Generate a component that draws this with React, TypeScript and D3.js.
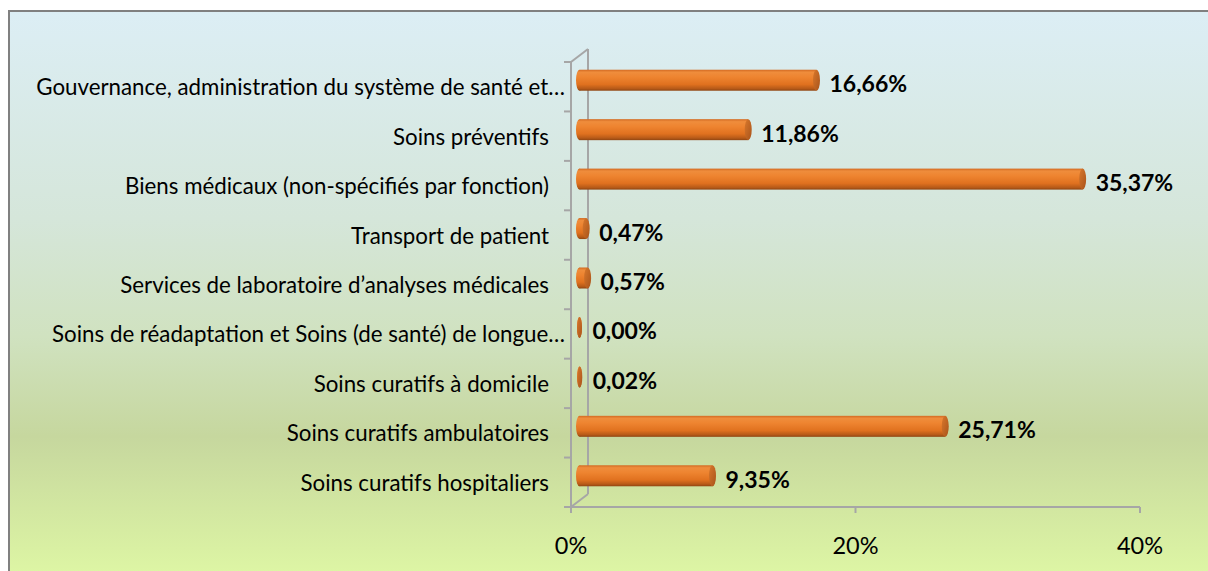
import React from "react";
import * as d3 from "d3";

const categories = [
  "Gouvernance, administration du système de santé et…",
  "Soins préventifs",
  "Biens médicaux (non-spécifiés par fonction)",
  "Transport de patient",
  "Services de laboratoire d’analyses médicales",
  "Soins de réadaptation et Soins (de santé) de longue…",
  "Soins curatifs à domicile",
  "Soins curatifs ambulatoires",
  "Soins curatifs hospitaliers",
];
const values = [16.66, 11.86, 35.37, 0.47, 0.57, 0.0, 0.02, 25.71, 9.35];
const valueLabels = ["16,66%", "11,86%", "35,37%", "0,47%", "0,57%", "0,00%", "0,02%", "25,71%", "9,35%"];
const xTicks = [0, 20, 40];
const xTickLabels = ["0%", "20%", "40%"];

const W = 1208;
const H = 571;
const front = { left: 571, right: 1140, top: 62, bottom: 507 };
const depth = { dx: 17, dy: -13 };

export default function App() {
  const x = d3.scaleLinear().domain([0, 40]).range([front.left, front.right]);
  const y = d3.scaleBand<string>().domain(categories).range([front.top, front.bottom]);
  const bw = y.bandwidth();
  const barH = 21;
  const capRx = 3.5;
  const mdx = depth.dx / 2;
  const mdy = depth.dy / 2;
  const font = "Lato, 'Open Sans', sans-serif";
  const axisColor = "#a6a6a6";

  return (
    <svg
      width={W}
      height={H}
      style={{ position: "fixed", left: 0, top: 0, display: "block" }}
    >
      <defs>
        <linearGradient id="bg" x1="0" y1="0" x2="0" y2="1">
          <stop offset="0" stopColor="#dceef5" />
          <stop offset="0.35" stopColor="#d5e6da" />
          <stop offset="0.55" stopColor="#d0e2c0" />
          <stop offset="0.72" stopColor="#c6d79e" />
          <stop offset="0.88" stopColor="#d6eca2" />
          <stop offset="1" stopColor="#e2fca6" />
        </linearGradient>
        <linearGradient id="cyl" x1="0" y1="0" x2="0" y2="1">
          <stop offset="0" stopColor="#d36a22" />
          <stop offset="0.12" stopColor="#ef8d3c" />
          <stop offset="0.35" stopColor="#ee8430" />
          <stop offset="0.7" stopColor="#e0711f" />
          <stop offset="0.9" stopColor="#b75a18" />
          <stop offset="1" stopColor="#8f4512" />
        </linearGradient>
        <linearGradient id="cap" x1="0" y1="0" x2="1" y2="1">
          <stop offset="0" stopColor="#d8782c" />
          <stop offset="1" stopColor="#a9531a" />
        </linearGradient>
      </defs>
      <rect x={9} y={11} width={W + 20} height={H + 20} fill="url(#bg)" stroke="#808080" strokeWidth={2} />

      {/* walls */}
      <g stroke={axisColor} strokeWidth={2} fill="none">
        <line x1={front.left} y1={front.top} x2={front.left} y2={front.bottom} />
        <line x1={front.left + depth.dx} y1={front.top + depth.dy} x2={front.left + depth.dx} y2={front.bottom + depth.dy} />
        <line x1={front.left} y1={front.top} x2={front.left + depth.dx} y2={front.top + depth.dy} />
        <line x1={front.left} y1={front.bottom} x2={front.left + depth.dx} y2={front.bottom + depth.dy} />
        <line x1={front.left - 1} y1={front.bottom} x2={front.right} y2={front.bottom} />
        {categories.map((c, i) => (
          <line key={"t" + i} x1={front.left - 7} x2={front.left} y1={y(c)!} y2={y(c)!} />
        ))}
        <line x1={front.left - 7} x2={front.left} y1={front.bottom} y2={front.bottom} />
        {xTicks.map((t) => (
          <line key={"xt" + t} x1={x(t)} x2={x(t)} y1={front.bottom} y2={front.bottom + 6} />
        ))}
      </g>

      {/* bars */}
      {categories.map((c, i) => {
        const cy = y(c)! + bw / 2 + mdy;
        const x0 = x(0) + mdx;
        const x1 = x(values[i]) + mdx;
        const w = Math.max(0, x1 - x0);
        const rx = values[i] < 0.1 ? 2.5 : capRx;
        return (
          <g key={"b" + i}>
            <ellipse cx={x0} cy={cy} rx={rx} ry={barH / 2} fill="url(#cyl)" />
            {w > 0 && <rect x={x0} y={cy - barH / 2} width={w} height={barH} fill="url(#cyl)" />}
            <ellipse cx={x0 + w} cy={cy} rx={rx} ry={barH / 2} fill="url(#cap)" />
            <text
              x={x1 + 13}
              y={cy + 3}
              dominantBaseline="central"
              fontFamily={font}
              fontWeight="bold"
              fontSize={23}
              fill="#000"
            >
              {valueLabels[i]}
            </text>
          </g>
        );
      })}

      {/* category labels */}
      {categories.map((c, i) => (
        <text
          key={"l" + i}
          x={c.endsWith("…") ? 565 : 549}
          y={y(c)! + bw / 2}
          textAnchor="end"
          dominantBaseline="central"
          fontFamily={font}
          fontSize={22.3}
          fill="#000"
        >
          {c}
        </text>
      ))}

      {xTicks.map((t, i) => (
        <text
          key={"xl" + t}
          x={x(t)}
          y={545}
          textAnchor="middle"
          dominantBaseline="central"
          fontFamily={font}
          fontSize={23.5}
          fill="#000"
        >
          {xTickLabels[i]}
        </text>
      ))}
    </svg>
  );
}
